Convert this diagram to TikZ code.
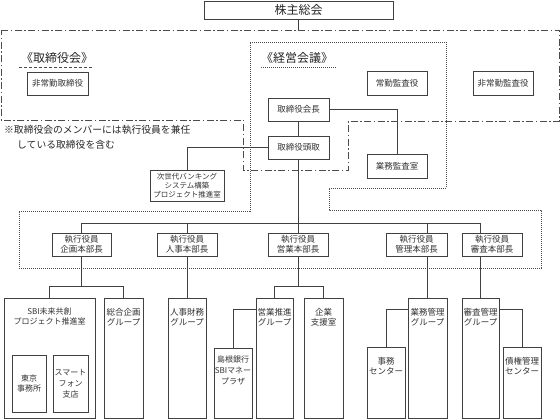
\documentclass[tikz,border=0pt]{standalone}
\usepackage{fontspec}
\setmainfont{Noto Sans CJK JP}
\usetikzlibrary{backgrounds,positioning}

\tikzset{
  wh/.style 2 args={minimum width=#1pt,minimum height=#2pt},
  inlbl/.style={anchor=north,yshift=-#1pt,align=center,inner sep=0pt,
    text=black!80,font=\fontsize{8.5}{10}\selectfont},
  boardline/.style={draw=black!70,line width=0.8pt,
    dash pattern=on 7pt off 2.5pt on 1.5pt off 2.5pt},
  mtgline/.style={draw=black!70,line width=0.8pt,dash pattern=on 1pt off 1pt}}

\begin{document}
\begin{tikzpicture}[x=1pt,y=-1pt]
  \useasboundingbox (0,0) rectangle (560,420);

  % title and region labels
  \node[draw=black!75,line width=0.8pt,wh={189}{18},inner sep=0pt,text=black!85,
    font=\fontsize{12}{14}\selectfont] (kabu) at (298.5,10) {株主総会};
  \begin{scope}[every node/.style={inner sep=0pt,text=black!85,font=\fontsize{12}{14}\selectfont}]
    \node (torikai) at (57,58) {《取締役会》};
    \node (keiei) at (297,58) {《経営会議》};
    \node[anchor=west,align=left,font=\fontsize{9.8}{15}\selectfont] (note) at (4,137.5)
      {※取締役会のメンバーには執行役員を兼任\\\hspace*{13pt}している取締役を含む};
  \end{scope}
  \draw[black!70,line width=0.8pt,dash pattern=on 3pt off 2pt] (19,67) -- (94,67);
  \draw[mtgline] (261,67) -- (337,67);

  % boxes
  \begin{scope}[every node/.style={draw=black!75,line width=0.8pt,fill=white,inner sep=0pt,
      align=center,text=black!80,font=\fontsize{8.5}{10}\selectfont}]
    \node[wh={61}{23}] (hijotori) at (57.5,83.5) {非常勤取締役};
    \node[wh={60}{24}] (jokin) at (397,83) {常勤監査役};
    \node[wh={60}{24}] (hijokan) at (503,83) {非常勤監査役};
    \node[wh={61}{23}] (kaicho) at (298.5,109.5) {取締役会長};
    \node[wh={61}{23}] (todori) at (298.5,147.5) {取締役頭取};
    \node[wh={60}{24}] (kansa) at (397,166) {業務監査室};
    \node[wh={74}{31},font=\fontsize{7.5}{9}\selectfont] (jisedai) at (187,185.5)
      {次世代バンキング\\システム構築\\プロジェクト推進室};

    \node[wh={59}{23}] (kikaku) at (81.5,244.5) {執行役員\\企画本部長};
    \node[wh={60}{23}] (jinji) at (187,244.5) {執行役員\\人事本部長};
    \node[wh={60}{23}] (eigyo) at (298,244.5) {執行役員\\営業本部長};
    \node[wh={61}{23}] (kanri) at (416.5,244.5) {執行役員\\管理本部長};
    \node[wh={60}{23}] (shinsa) at (492,244.5) {執行役員\\審査本部長};

    \node[wh={91}{120},label={[inlbl=10,font=\fontsize{8}{10}\selectfont]north:SBI未来共創\\プロジェクト推進室}]
      (sbi) at (49.5,358) {};
    \node[wh={34}{57},font=\fontsize{8}{10}\selectfont] (tokyo) at (29,383.5) {東京\\事務所};
    \node[wh={35}{57},font=\fontsize{8}{11}\selectfont] (smart) at (70.5,383.5) {スマート\\フォン\\支店};
    \node[wh={39}{120},label={[inlbl=10]north:総合企画\\グループ}] (sogo) at (123.5,358) {};
    \node[wh={38}{120},label={[inlbl=10]north:人事財務\\グループ}] (jinzai) at (187,358) {};
    \node[wh={38}{70},label={[inlbl=7.5,font=\fontsize{8}{11}\selectfont]north:島根銀行\\SBIマネー\\プラザ}]
      (shimane) at (233,383) {};
    \node[wh={37}{120},label={[inlbl=10]north:営業推進\\グループ}] (suishin) at (274.5,358) {};
    \node[wh={39}{120},label={[inlbl=10]north:企業\\支援室}] (kigyo) at (323.5,358) {};
    \node[wh={38}{71},label={[inlbl=10.5]north:事務\\センター}] (jimu) at (386,382.5) {};
    \node[wh={39}{120},label={[inlbl=10]north:業務管理\\グループ}] (gyomu) at (427.5,358) {};
    \node[wh={37}{120},label={[inlbl=10]north:審査管理\\グループ}] (shinsagrp) at (480.5,358) {};
    \node[wh={38}{71},label={[inlbl=10.5]north:債権管理\\センター}] (saiken) at (522,382.5) {};
  \end{scope}

  % connectors
  \coordinate (bus) at (299,223);
  \begin{scope}[draw=black!75,line width=0.8pt]
    \draw (kabu.south) -- ++(0,11);
    \draw (kaicho.south) -- (todori.north);
    \draw (kaicho.east) -| (kansa.north);
    \draw (todori.west) -| (jisedai.north);
    \draw (todori.south) -- (todori.south |- bus);
    \draw (kikaku.north |- bus) -- (shinsagrp.north |- bus);
    \foreach \n in {kikaku,jinji,eigyo}
      \draw (\n.north) -- (\n.north |- bus);
    \draw (gyomu.north |- bus) -- (gyomu.north |- kanri.north);
    \draw (shinsagrp.north |- bus) -- (shinsagrp.north |- shinsa.north);
    \draw (kikaku.south) -- ++(0,31);
    \draw (sbi.north) -- ++(0,-11) -| (sogo.north);
    \draw (jinji.south) -- (jinzai.north);
    \draw (eigyo.south) -- ++(0,31);
    \draw (suishin.north) -- ++(0,-11) -| (kigyo.north);
    \draw (gyomu.north |- kanri.south) -- (gyomu.north);
    \draw (shinsagrp.north |- shinsa.south) -- (shinsagrp.north);
    \draw ([yshift=-12pt]suishin.north west) -| (shimane.north);
    \draw ([yshift=-12pt]gyomu.north west) -| (jimu.north);
    \draw ([yshift=-12pt]shinsagrp.north east) -| (saiken.north);
  \end{scope}

  % regions
  \begin{scope}[on background layer]
    \draw[boardline] (1,30) -- (559,30) -- (559,121) -- (348,121) -- (348,170)
      -- (243,170) -- (243,120) -- (1,120) -- cycle;
    \draw[mtgline] (250,42) -- (446,42) -- (446,188) -- (329,188) -- (329,210)
      -- (541,210) -- (541,268) -- (19,268) -- (19,211) -- (250,211) -- cycle;
  \end{scope}
\end{tikzpicture}
\end{document}
